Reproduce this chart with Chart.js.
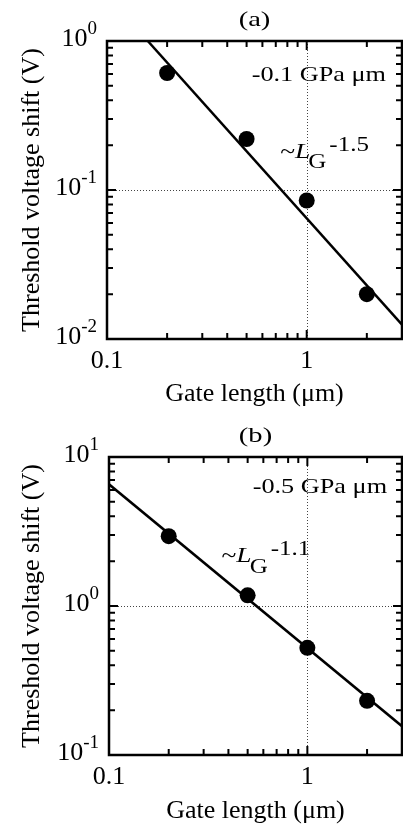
<!DOCTYPE html>
<html>
<head>
<meta charset="utf-8">
<script src="https://cdn.jsdelivr.net/npm/chart.js@4.4.1/dist/chart.umd.min.js"></script>
<style>
  html, body { margin: 0; padding: 0; background: #fff; width: 403px; overflow: hidden; }
  canvas { display: block; }
</style>
</head>
<body>
<canvas id="panelA" width="410" height="410"></canvas>
<canvas id="panelB" width="410" height="417"></canvas>
<script>
// data
var gateLength = [0.2, 0.5, 1, 2];
var shiftA = [0.61, 0.22, 0.085, 0.020];
var shiftB = [2.94, 1.18, 0.524, 0.231];

// fitted power-law lines (end points)
var fitAx = [0.16, 3];
var fitAy = [1.0, 0.0125];
var fitBx = [0.1, 3];
var fitBy = [6.56, 0.156];

// tick labels
var xTickValues = [0.1, 1];
var xTickLabels = ['0.1', '1'];
var yExpA = [0, -1, -2];
var yExpB = [1, 0, -1];

var SERIF = '"Liberation Serif", "Times New Roman", serif';

function pairs(xs, ys) {
    return xs.map(function(v, i) { return {x: v, y: ys[i]}; });
}

function minorValues(min, max) {
    var out = [];
    for (var d = Math.floor(Math.log10(min)); d <= Math.ceil(Math.log10(max)); d++) {
        for (var m = 1; m <= 9; m++) {
            var v = m * Math.pow(10, d);
            if (v >= min * 0.999 && v <= max * 1.001) out.push({v: v, major: m === 1});
        }
    }
    return out;
}

// text squeezed/stretched sideways like the original figure
function wideText(ctx, str, x, y, font, sx) {
    ctx.save();
    ctx.translate(x, y);
    ctx.scale(sx, 1);
    ctx.font = font;
    ctx.fillText(str, 0, 0);
    var w = ctx.measureText(str).width * sx;
    ctx.restore();
    return w;
}

var framePlugin = {
    id: 'frame',
    beforeDatasetsDraw: function(chart, args, opts) {
        var ctx = chart.ctx, a = chart.chartArea, x = chart.scales.x, y = chart.scales.y;
        ctx.save();
        ctx.strokeStyle = '#444';
        ctx.lineWidth = 1;
        ctx.setLineDash([1, 2]);
        opts.gridX.forEach(function(v) {
            var px = Math.round(x.getPixelForValue(v)) + 0.5;
            ctx.beginPath(); ctx.moveTo(px, a.top); ctx.lineTo(px, a.bottom); ctx.stroke();
        });
        opts.gridY.forEach(function(v) {
            var py = Math.round(y.getPixelForValue(v)) + 0.5;
            ctx.beginPath(); ctx.moveTo(a.left, py); ctx.lineTo(a.right, py); ctx.stroke();
        });
        ctx.restore();
    },
    afterDraw: function(chart, args, opts) {
        var ctx = chart.ctx, a = chart.chartArea, x = chart.scales.x, y = chart.scales.y;
        ctx.save();
        ctx.strokeStyle = '#000';
        ctx.fillStyle = '#000';

        // inward ticks on all four sides
        ctx.lineWidth = 2;
        minorValues(x.min, x.max).forEach(function(t) {
            var px = x.getPixelForValue(t.v), len = t.major ? 9 : 6;
            ctx.beginPath();
            ctx.moveTo(px, a.bottom); ctx.lineTo(px, a.bottom - len);
            ctx.moveTo(px, a.top); ctx.lineTo(px, a.top + len);
            ctx.stroke();
        });
        minorValues(y.min, y.max).forEach(function(t) {
            var py = y.getPixelForValue(t.v), len = t.major ? 9 : 6;
            ctx.beginPath();
            ctx.moveTo(a.left, py); ctx.lineTo(a.left + len, py);
            ctx.moveTo(a.right, py); ctx.lineTo(a.right - len, py);
            ctx.stroke();
        });

        // frame
        ctx.lineWidth = 2.5;
        ctx.strokeRect(a.left, a.top, a.right - a.left, a.bottom - a.top);

        // x tick labels
        ctx.font = '26px ' + SERIF;
        ctx.textAlign = 'center';
        ctx.textBaseline = 'alphabetic';
        xTickValues.forEach(function(v, i) {
            ctx.fillText(xTickLabels[i], x.getPixelForValue(v), a.bottom + 28.5);
        });

        // y tick labels as 10^n
        ctx.textAlign = 'left';
        opts.yExp.forEach(function(e) {
            var py = y.getPixelForValue(Math.pow(10, e)) + 5;
            ctx.font = '19px ' + SERIF;
            var expW = ctx.measureText(String(e)).width;
            ctx.font = '26px ' + SERIF;
            var baseW = ctx.measureText('10').width;
            var x0 = a.left - 10 - expW - baseW;
            ctx.fillText('10', x0, py);
            ctx.font = '19px ' + SERIF;
            ctx.fillText(String(e), x0 + baseW, py - 12.5);
        });

        // panel title
        ctx.textAlign = 'center';
        ctx.save();
        ctx.translate((a.left + a.right) / 2, a.top - 15);
        ctx.scale(1.3, 1);
        ctx.font = '22px ' + SERIF;
        ctx.fillText(opts.title, 0, 0);
        ctx.restore();

        // stress label
        ctx.textAlign = 'left';
        wideText(ctx, opts.stress, x.getPixelForValue(opts.stressAt[0]), y.getPixelForValue(opts.stressAt[1]),
            '21px ' + SERIF, 1.25);

        // ~L_G^n label
        var lx = x.getPixelForValue(opts.powerAt[0]), ly = y.getPixelForValue(opts.powerAt[1]);
        lx += wideText(ctx, '~', lx, ly, '22px ' + SERIF, 1.25);
        lx += wideText(ctx, 'L', lx, ly, 'italic 22px ' + SERIF, 1.25) - 2;
        lx += wideText(ctx, 'G', lx, ly + 10.5, '20px ' + SERIF, 1.25) + 3;
        wideText(ctx, opts.power, lx, ly - 7, '20px ' + SERIF, 1.25);

        ctx.restore();
    }
};

function makePanel(id, pts, fit, cfg) {
    return new Chart(document.getElementById(id), {
        type: 'scatter',
        data: {
            datasets: [{
                data: pts,
                pointRadius: 8,
                pointBackgroundColor: '#000',
                pointBorderWidth: 0,
                showLine: false
            }, {
                data: fit,
                showLine: true,
                borderColor: '#000',
                borderWidth: 2.5,
                pointRadius: 0
            }]
        },
        options: {
            responsive: false,
            animation: false,
            devicePixelRatio: 1,
            events: [],
            layout: { padding: { top: cfg.top, right: cfg.right, bottom: 0, left: 0 } },
            plugins: {
                legend: { display: false },
                tooltip: { enabled: false },
                frame: cfg.frame
            },
            scales: {
                x: {
                    type: 'logarithmic',
                    min: 0.1,
                    max: 3,
                    grid: { display: false },
                    border: { display: false },
                    ticks: { display: false },
                    title: {
                        display: true,
                        text: 'Gate length (μm)',
                        color: '#000',
                        font: { family: SERIF, size: 26 },
                        padding: { top: cfg.xTitlePad, bottom: 0 }
                    },
                    afterFit: function(s) { s.height = cfg.xHeight; }
                },
                y: {
                    type: 'logarithmic',
                    min: cfg.ymin,
                    max: cfg.ymax,
                    grid: { display: false },
                    border: { display: false },
                    ticks: { display: false },
                    title: {
                        display: true,
                        text: 'Threshold voltage shift (V)',
                        color: '#000',
                        font: { family: SERIF, size: 26 },
                        padding: { top: 17, bottom: 0 }
                    },
                    afterFit: function(s) { s.width = cfg.yWidth; }
                }
            }
        },
        plugins: [framePlugin]
    });
}

makePanel('panelA', pairs(gateLength, shiftA), pairs(fitAx, fitAy), {
    top: 41, right: 5, xHeight: 71, yWidth: 107, ymin: 0.01, ymax: 1, xTitlePad: 0,
    frame: {
        gridX: [1], gridY: [0.1], yExp: yExpA, title: '(a)',
        stress: '-0.1 GPa μm', stressAt: [0.53, 0.54],
        power: '-1.5', powerAt: [0.736, 0.164]
    }
});

makePanel('panelB', pairs(gateLength, shiftB), pairs(fitBx, fitBy), {
    top: 47, right: 4, xHeight: 72, yWidth: 109, ymin: 0.1, ymax: 10, xTitlePad: 2,
    frame: {
        gridX: [1], gridY: [1], yExp: yExpB, title: '(b)',
        stress: '-0.5 GPa μm', stressAt: [0.53, 5.73],
        power: '-1.1', powerAt: [0.369, 1.97]
    }
});
</script>
</body>
</html>
